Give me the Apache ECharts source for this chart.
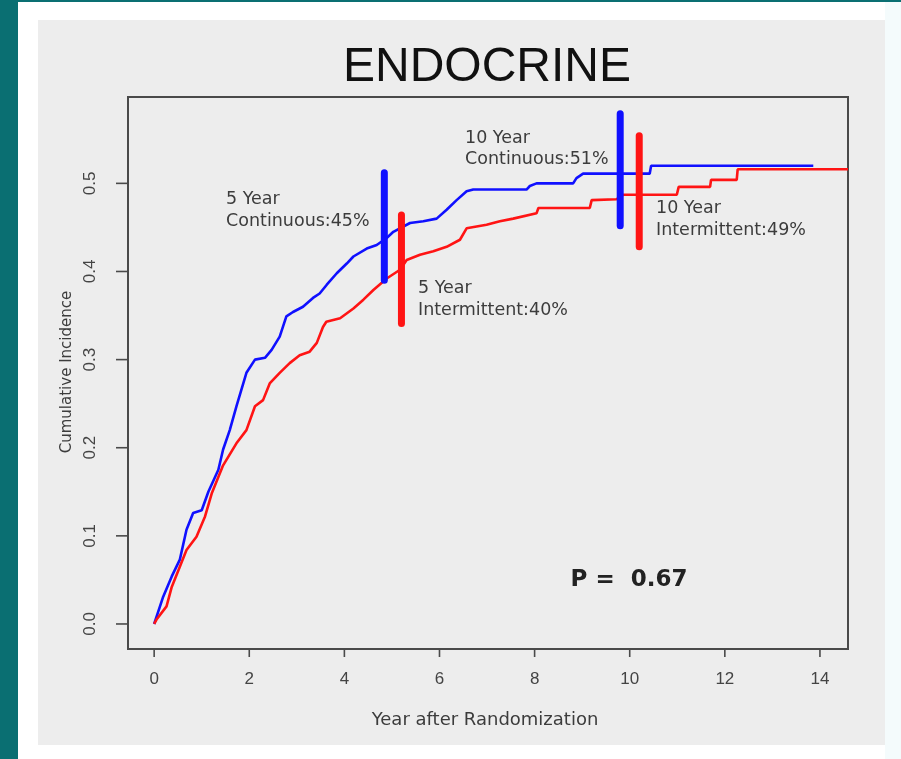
<!DOCTYPE html>
<html>
<head>
<meta charset="utf-8">
<title>ENDOCRINE</title>
<script src="https://cdn.jsdelivr.net/npm/echarts@6/dist/echarts.min.js"></script>
<style>
  html, body { margin: 0; padding: 0; background: #ffffff; }
  #page { position: relative; width: 901px; height: 759px; overflow: hidden; background: #ffffff; }
  #page .band-top { position: absolute; left: 0; top: 0; width: 901px; height: 2px; background: #0a6f72; }
  #page .band-left { position: absolute; left: 0; top: 0; width: 18px; height: 759px; background: #0a6f72; }
  #page .band-right { position: absolute; left: 885px; top: 2px; width: 16px; height: 757px; background: #f4fbfc; }
  #page .panel { position: absolute; left: 38px; top: 20px; width: 847px; height: 725px; background: #ededed; }
  #chart { position: absolute; left: 0; top: 0; width: 901px; height: 759px; }
</style>
</head>
<body>
<div id="page">
  <div class="band-top"></div>
  <div class="band-left"></div>
  <div class="band-right"></div>
  <div class="panel"></div>
  <div id="chart"></div>
</div>
<script>
// Axis ticks
const xTicks = [0, 2, 4, 6, 8, 10, 12, 14];
const yTicks = [0, 0.1, 0.2, 0.3, 0.4, 0.5];

// Cumulative incidence curves: [year, incidence]
const continuous = [
  [0, 0], [0.19, 0.031], [0.37, 0.054], [0.54, 0.073], [0.68, 0.107], [0.82, 0.126],
  [1.00, 0.129], [1.14, 0.150], [1.35, 0.175], [1.45, 0.198], [1.59, 0.220], [1.73, 0.247],
  [1.94, 0.285], [2.12, 0.300], [2.33, 0.302], [2.47, 0.311], [2.64, 0.326], [2.78, 0.349],
  [2.92, 0.354], [3.13, 0.360], [3.34, 0.370], [3.48, 0.375], [3.63, 0.385], [3.84, 0.398],
  [4.05, 0.409], [4.19, 0.417], [4.47, 0.426], [4.68, 0.430], [4.89, 0.438], [5.03, 0.445],
  [5.38, 0.455], [5.66, 0.457], [5.94, 0.460], [6.15, 0.470], [6.36, 0.481], [6.57, 0.491],
  [6.71, 0.493], [7.83, 0.493], [7.90, 0.497], [8.04, 0.500], [8.81, 0.500], [8.88, 0.506],
  [9.02, 0.511], [10.42, 0.511], [10.45, 0.520], [13.86, 0.520]
];
const intermittent = [
  [0, 0], [0.05, 0.005], [0.26, 0.020], [0.37, 0.042], [0.54, 0.065], [0.68, 0.084],
  [0.89, 0.099], [1.07, 0.122], [1.21, 0.148], [1.45, 0.180], [1.73, 0.205], [1.94, 0.220],
  [2.12, 0.247], [2.29, 0.254], [2.43, 0.273], [2.64, 0.285], [2.85, 0.296], [3.06, 0.305],
  [3.27, 0.309], [3.42, 0.319], [3.55, 0.337], [3.62, 0.343], [3.91, 0.347], [4.19, 0.358],
  [4.40, 0.368], [4.61, 0.379], [4.89, 0.392], [5.17, 0.402], [5.31, 0.413], [5.59, 0.419],
  [5.87, 0.423], [6.15, 0.428], [6.43, 0.436], [6.57, 0.449], [6.99, 0.453], [7.27, 0.457],
  [7.55, 0.460], [8.04, 0.466], [8.08, 0.472], [9.16, 0.472], [9.20, 0.481], [9.72, 0.482],
  [9.86, 0.487], [10.99, 0.487], [11.03, 0.496], [11.69, 0.496], [11.71, 0.504], [12.25, 0.504],
  [12.27, 0.516], [14.59, 0.516]
];

// Marker bars at 5 and 10 years: [year, lower], [year, upper]
const barContinuous5 = [[4.84, 0.390], [4.84, 0.512]];
const barIntermittent5 = [[5.20, 0.341], [5.20, 0.464]];
const barContinuous10 = [[9.80, 0.452], [9.80, 0.579]];
const barIntermittent10 = [[10.20, 0.428], [10.20, 0.554]];

const BLUE = '#1010ff';
const RED = '#ff1414';
const TXT = '#3c3c3c';
const FRAME = '#4a4a4a';
const annFont = '"DejaVu Sans", sans-serif';
const X_RANGE = { min: -0.55, max: 14.59 };
const Y_RANGE = { min: -0.0284, max: 0.598 };

function curve(name, data, color) {
  return {
    name, type: 'line', data, showSymbol: false, symbol: 'none',
    lineStyle: { color, width: 2.6 }, itemStyle: { color },
    emphasis: { disabled: true }, z: 3, animation: false
  };
}
function bar(name, data, color) {
  return {
    name, type: 'line', data, showSymbol: false, symbol: 'none',
    lineStyle: { color, width: 7, cap: 'round' }, itemStyle: { color },
    emphasis: { disabled: true }, z: 5, animation: false
  };
}
function note(x, y, text) {
  return {
    type: 'text', x, y, silent: true, z: 20,
    style: { text, fill: TXT, font: '17.5px ' + annFont, align: 'left', verticalAlign: 'middle' }
  };
}
// Tick marks drawn as thin rect symbols in narrow strips that share the plot's scales
function tickSeries(name, xIndex, yIndex, data, size) {
  return {
    name, type: 'scatter', xAxisIndex: xIndex, yAxisIndex: yIndex, data,
    symbol: 'rect', symbolSize: size, silent: true, animation: false,
    itemStyle: { color: FRAME, opacity: 1 }, emphasis: { disabled: true }, z: 6
  };
}
const hiddenAxis = (gridIndex, range) => Object.assign({ type: 'value', gridIndex, show: false }, range);

const chart = echarts.init(document.getElementById('chart'));
chart.setOption({
  animation: false,
  grid: [
    { left: 128, top: 97, width: 720, height: 552, show: true, borderColor: FRAME, borderWidth: 2 },
    { left: 128, top: 649, width: 720, height: 8 },   // strip below the frame for x ticks
    { left: 116, top: 97, width: 12, height: 552 }    // strip left of the frame for y ticks
  ],
  xAxis: [
    {
      type: 'value', gridIndex: 0, min: X_RANGE.min, max: X_RANGE.max,
      axisLine: { show: true, onZero: false, lineStyle: { color: FRAME } },
      splitLine: { show: false },
      axisTick: { show: false },
      axisLabel: {
        customValues: xTicks, margin: 22, color: '#444',
        fontFamily: '"Liberation Sans", Arial, sans-serif', fontSize: 17
      }
    },
    hiddenAxis(1, X_RANGE),
    hiddenAxis(2, { min: 0, max: 1 })
  ],
  yAxis: [
    {
      type: 'value', gridIndex: 0, min: Y_RANGE.min, max: Y_RANGE.max,
      axisLine: { show: true, onZero: false, lineStyle: { color: FRAME } },
      splitLine: { show: false },
      axisTick: { show: false },
      axisLabel: {
        customValues: yTicks, rotate: 90, margin: 29, color: '#444',
        fontFamily: '"Liberation Sans", Arial, sans-serif', fontSize: 17,
        formatter: v => v.toFixed(1)
      }
    },
    hiddenAxis(1, { min: 0, max: 1 }),
    hiddenAxis(2, Y_RANGE)
  ],
  graphic: [
    { type: 'text', x: 487, y: 68, silent: true, z: 20,
      style: { text: 'ENDOCRINE', fill: '#111', font: '48px "Liberation Sans", Arial, sans-serif', align: 'center', verticalAlign: 'middle' } },
    { type: 'text', x: 485, y: 720, silent: true, z: 20,
      style: { text: 'Year after Randomization', fill: TXT, font: '18px ' + annFont, align: 'center', verticalAlign: 'middle' } },
    { type: 'text', x: 67, y: 372, rotation: Math.PI / 2, silent: true, z: 20,
      style: { text: 'Cumulative Incidence', fill: TXT, font: '15px ' + annFont, align: 'center', verticalAlign: 'middle' } },
    note(226, 199, '5 Year'),
    note(226, 221, 'Continuous:45%'),
    note(418, 288, '5 Year'),
    note(418, 310, 'Intermittent:40%'),
    note(465, 138, '10 Year'),
    note(465, 159, 'Continuous:51%'),
    note(656, 208, '10 Year'),
    note(656, 230, 'Intermittent:49%'),
    { type: 'text', x: 629, y: 580, silent: true, z: 20,
      style: { text: 'P =  0.67', fill: '#222', font: 'bold 23px ' + annFont, align: 'center', verticalAlign: 'middle' } }
  ],
  series: [
    curve('Continuous', continuous, BLUE),
    curve('Intermittent', intermittent, RED),
    bar('Continuous 5 year', barContinuous5, BLUE),
    bar('Intermittent 5 year', barIntermittent5, RED),
    bar('Continuous 10 year', barContinuous10, BLUE),
    bar('Intermittent 10 year', barIntermittent10, RED),
    tickSeries('x ticks', 1, 1, xTicks.map(v => [v, 0.5]), [1.6, 8]),
    tickSeries('y ticks', 2, 2, yTicks.map(v => [0.5, v]), [12, 1.6])
  ]
});
</script>
</body>
</html>
